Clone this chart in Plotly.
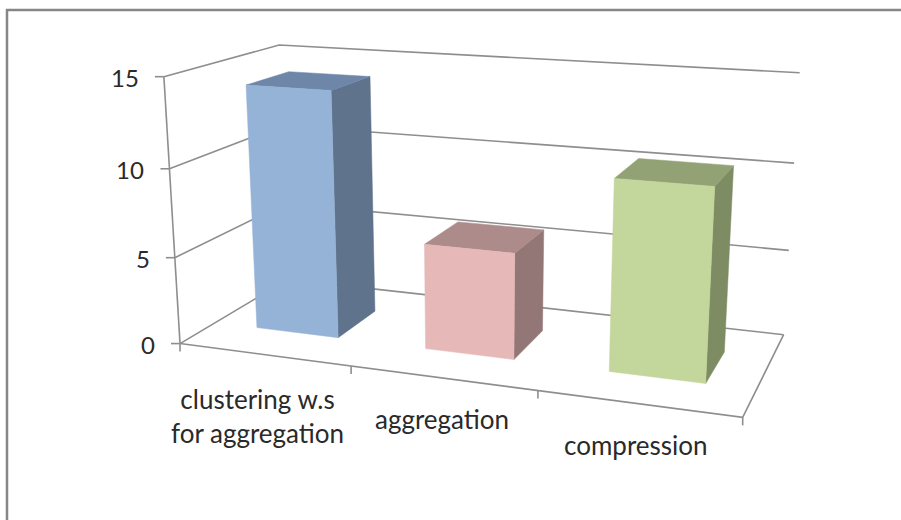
import numpy as np
import plotly.graph_objects as go

# Chart data
categories = ["clustering w.s<br>for aggregation", "aggregation", "compression"]
values = [14.1, 6.0, 10.5]
value_ticks = [0, 5, 10, 15]

# Bar colours: front, side and top faces
front_colors = ["#95B3D7", "#E6B9B8", "#C3D69B"]
side_colors = ["#5F738C", "#937776", "#7D8C63"]
top_colors = ["#6E87A8", "#AC8B8A", "#93A274"]

GRID = "#8E8E8E"
TEXT = "#2A2A2A"
FONT = "Lato"

# Camera calibration: (category, depth, value) -> page pixel
calibration = [
    ((0, 0, 0), (180, 343)), ((1, 0, 0), (351, 368)), ((2, 0, 0), (538, 391)),
    ((3, 0, 0), (742, 417)), ((0, 0, 10), (170, 168)), ((0, 0, 15), (164, 76)),
    ((0, 1, 0), (288, 279)), ((0, 1, 10), (283, 125.5)), ((0, 1, 15), (278, 46)),
    ((3, 1, 0), (784, 334)), ((3, 1, 10), (794, 163)), ((3, 1, 15), (800, 73)),
]


def solve_camera(pairs):
    rows, rhs = [], []
    for (x, y, z), (u, v) in pairs:
        rows.append([x, y, z, 1, 0, 0, 0, 0, -u * x, -u * y, -u * z])
        rows.append([0, 0, 0, 0, x, y, z, 1, -v * x, -v * y, -v * z])
        rhs += [u, v]
    p = np.linalg.lstsq(np.array(rows, float), np.array(rhs, float), rcond=None)[0]
    return np.append(p, 1).reshape(3, 4)


CAMERA = solve_camera(calibration)


def project(x, y, z):
    u, v, w = CAMERA @ np.array([x, y, z, 1.0])
    return u / w, v / w


fig = go.Figure()


def polyline(points, color=GRID, width=1.6):
    fig.add_trace(go.Scatter(
        x=[p[0] for p in points], y=[p[1] for p in points], mode="lines",
        line=dict(color=color, width=width), hoverinfo="skip", showlegend=False))


def face(corners, color):
    pts = [project(*c) for c in corners]
    pts.append(pts[0])
    fig.add_trace(go.Scatter(
        x=[p[0] for p in pts], y=[p[1] for p in pts], mode="lines", fill="toself",
        fillcolor=color, line=dict(color=color, width=0.5), hoverinfo="skip",
        showlegend=False))


n = len(categories)
top = value_ticks[-1]

# Walls and floor
for t in value_ticks:
    polyline([project(0, 0, t), project(0, 1, t), project(n, 1, t)])
polyline([project(0, 0, 0), project(0, 0, top)])
polyline([project(0, 0, 0), project(n, 0, 0), project(n, 1, 0)])

# Axis ticks and value labels
for t in value_ticks:
    u, v = project(0, 0, t)
    polyline([(u - 9, v), (u, v)])
    fig.add_annotation(x=u - 23, y=v + 0.5, text=str(t), showarrow=False, xanchor="right",
                       yanchor="middle", font=dict(family=FONT, size=24, color=TEXT))
for i in range(n + 1):
    u, v = project(i, 0, 0)
    polyline([(u, v), (u, v + 8)])

# Category labels
label_offsets = [(-6, 61), (0, 41), (-2, 41)]
for i, name in enumerate(categories):
    u, v = project(i + 0.5, 0, 0)
    fig.add_annotation(x=u + label_offsets[i][0], y=v + label_offsets[i][1], text=name,
                       showarrow=False, xanchor="center", yanchor="middle",
                       font=dict(family=FONT, size=26, color=TEXT))

# Bars, drawn as three visible faces of each box
X0, X1, D0, D1 = 0.258, 0.75, 0.30, 0.69
for i, val in enumerate(values):
    a, b = i + X0, i + X1
    face([(b, D0, 0), (b, D1, 0), (b, D1, val), (b, D0, val)], side_colors[i])
    face([(a, D0, val), (b, D0, val), (b, D1, val), (a, D1, val)], top_colors[i])
    face([(a, D0, 0), (b, D0, 0), (b, D0, val), (a, D0, val)], front_colors[i])

# Outer frame: only the top and left edges show
fig.add_shape(type="line", x0=6, x1=901, y0=10, y1=10, line=dict(color="#868686", width=2.5))
fig.add_shape(type="line", x0=7, x1=7, y0=9, y1=520, line=dict(color="#868686", width=2.5))

fig.update_layout(
    width=901, height=520, margin=dict(l=0, r=0, t=0, b=0),
    paper_bgcolor="white", plot_bgcolor="white", showlegend=False,
    xaxis=dict(range=[0, 901], visible=False, fixedrange=True),
    yaxis=dict(range=[520, 0], visible=False, fixedrange=True),
)
fig.write_html("out.html", config=dict(displayModeBar=False))
